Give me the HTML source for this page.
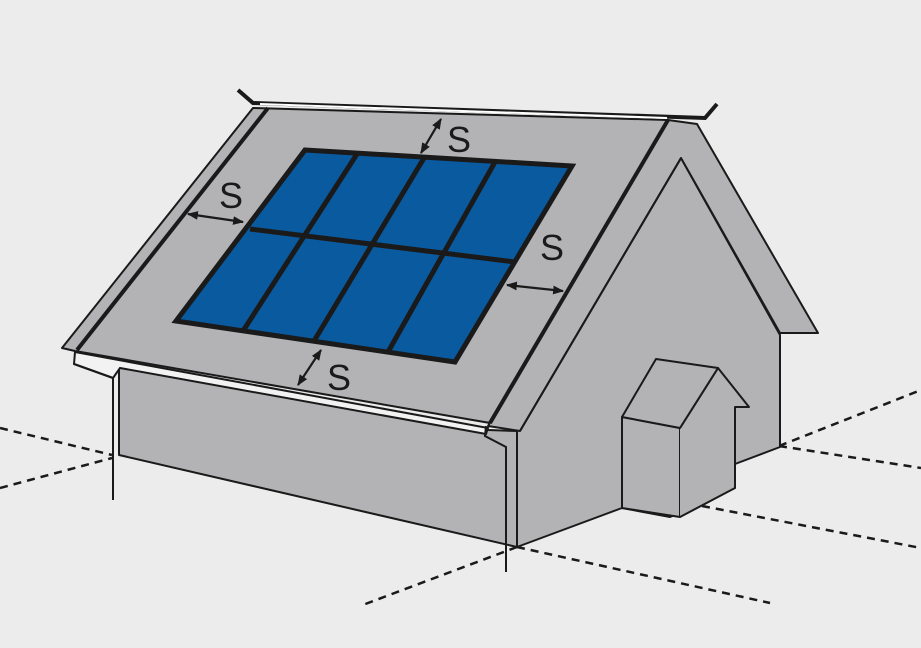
<!DOCTYPE html>
<html><head><meta charset="utf-8"><style>
html,body{margin:0;padding:0;background:#ececec;}
svg{display:block}
text{font-family:"Liberation Sans",sans-serif;fill:#1a1a1a}
</style></head><body>
<svg width="921" height="648" viewBox="0 0 921 648" xmlns="http://www.w3.org/2000/svg">
<defs>
<marker id="ah" viewBox="0 0 10 10" refX="9" refY="5" markerWidth="5" markerHeight="5" orient="auto-start-reverse"><path d="M0,1 L10,5 L0,9 z" fill="#1a1a1a"/></marker>
</defs>
<rect width="921" height="648" fill="#ececec"/>
<g stroke="#1a1a1a" stroke-width="2.5" fill="none" stroke-dasharray="8,6">
<line x1="0" y1="428" x2="112" y2="455"/>
<line x1="0" y1="488" x2="112" y2="458"/>
<line x1="517" y1="547" x2="360" y2="606"/>
<line x1="517" y1="547" x2="770" y2="603"/>
<line x1="702" y1="506" x2="921" y2="548"/>
<line x1="779" y1="446" x2="921" y2="468"/>
<line x1="779" y1="446" x2="921" y2="390"/>
</g>
<g stroke="#1a1a1a" stroke-width="2" stroke-linejoin="round" fill="#b3b3b5">
<polygon points="119,361 488,430 517,431 517,547 119,455"/>
<polygon points="517,431 681,158 780,335 780,447 735,464 735,488 670,517 622,508 517,547"/>
<polygon points="622,417 680,428 680,517 622,508"/>
<polygon points="680,428 718,368 749,407 735,407 735,488 680,517" stroke="none"/>
<polyline points="680,428 718,368 749,407 735,407 735,488 680,517" fill="none"/>
<polygon points="622,417 656,359 718,368 680,428"/>
<polygon points="697,124 818,333 780,333 681,158 520,431 488,426 668,120"/>
<polygon points="253,108 668,120 490,423 75,351 62,348"/>
</g>
<g stroke="#1a1a1a" fill="none">
<line x1="681" y1="158" x2="520" y2="431" stroke-width="2"/>
<line x1="668" y1="120" x2="490" y2="423" stroke-width="4"/>
<line x1="268" y1="108" x2="77" y2="350" stroke-width="4"/>
<polyline points="238,90 253,103 705,118 717,104" stroke-width="4"/>
<polyline points="260,104 667,118" stroke="#fff" stroke-width="2"/>
<polygon points="75,352 488,428 486,434 120,368 113,378 74,364" fill="#f2f2f2" stroke-width="2"/>
<polyline points="74,364 113,378 113,500" stroke-width="2"/>
<polyline points="486,426 485,436 506,447 506,572" stroke-width="2"/>
<line x1="517" y1="431" x2="517" y2="547" stroke-width="2"/>
</g>
<polygon points="305,150 572,166 455,362 176,321" fill="#0a5aa0" stroke="#1a1a1a" stroke-width="5" stroke-linejoin="miter"/>
<g stroke="#1a1a1a" stroke-width="5">
<line x1="250" y1="229" x2="515" y2="262"/>
<line x1="357" y1="154" x2="243" y2="331"/>
<line x1="424" y1="158" x2="314" y2="341"/>
<line x1="495" y1="162" x2="388" y2="352"/>
</g>
<g stroke="#1a1a1a" stroke-width="2.2" marker-start="url(#ah)" marker-end="url(#ah)">
<line x1="188" y1="214" x2="243" y2="222"/>
<line x1="421" y1="153" x2="441" y2="119"/>
<line x1="507" y1="285" x2="563" y2="291"/>
<line x1="298" y1="385" x2="321" y2="350"/>
</g>
<g font-size="36">
<text x="219" y="208">S</text>
<text x="447" y="152">S</text>
<text x="540" y="260">S</text>
<text x="327" y="390">S</text>
</g>
</svg>
</body></html>
